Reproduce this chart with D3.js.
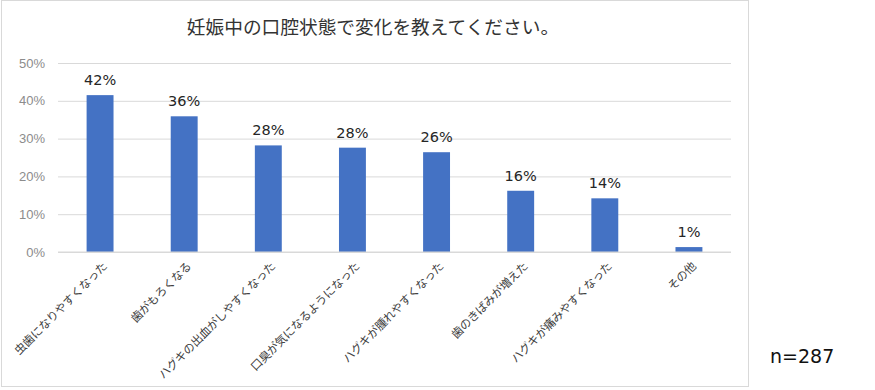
<!DOCTYPE html>
<html><head><meta charset="utf-8">
<script src="https://cdn.jsdelivr.net/npm/d3@7"></script>
<style>body{margin:0;background:#fff;}svg{display:block;font-family:"Noto Sans CJK JP","Noto Sans",sans-serif;}</style>
</head><body><svg id="c" width="875" height="390"></svg>
<script>
const categories = ["虫歯になりやすくなった","歯がもろくなる","ハグキの出血がしやすくなった","口臭が気になるようになった","ハグキが腫れやすくなった","歯のきばみが増えた","ハグキが痛みやすくなった","その他"];
const values = [41.5, 35.9, 28.2, 27.6, 26.4, 16.2, 14.2, 1.3];
const yTicks = [0, 10, 20, 30, 40, 50];
const title = "妊娠中の口腔状態で変化を教えてください。";
const note = "n=287";

const svg = d3.select("#c");
svg.append("rect").attr("x",1.5).attr("y",0.5).attr("width",747).attr("height",386)
  .attr("fill","#fff").attr("stroke","#d9d9d9");

const x = d3.scaleBand().domain(categories).range([58,731]).paddingInner(0.68).paddingOuter(0.34);
const y = d3.scaleLinear().domain([0,50]).range([252,63]);

svg.append("text").attr("x",373).attr("y",34).attr("text-anchor","middle")
  .attr("font-size",18.7).attr("fill","#333").text(title);

const ya = svg.append("g").attr("transform","translate(58,0)")
  .call(d3.axisLeft(y).tickValues(yTicks).tickSize(-673).tickFormat(d=>d+"%"));
ya.select(".domain").remove();
ya.selectAll("line").attr("stroke","#d9d9d9");
ya.selectAll("text").attr("x",-13).attr("fill","#8c8c8c").attr("font-size",13)
  .attr("font-family","'Liberation Sans',Arial,sans-serif");

svg.selectAll("rect.bar").data(values).enter().append("rect").attr("class","bar")
  .attr("x",(d,i)=>x(categories[i])).attr("width",x.bandwidth())
  .attr("y",d=>y(d)).attr("height",d=>y(0)-y(d)).attr("fill","#4472c4");

svg.selectAll("text.lab").data(values).enter().append("text").attr("class","lab")
  .attr("x",(d,i)=>x(categories[i])+x.bandwidth()/2).attr("y",d=>y(d)-10)
  .attr("text-anchor","middle").attr("font-size",14.5).attr("fill","#262626")
  .attr("font-family","'DejaVu Sans',sans-serif")
  .text(d=>Math.round(d)+"%");

svg.append("line").attr("x1",58).attr("x2",731).attr("y1",y(0)).attr("y2",y(0)).attr("stroke","#d9d9d9");

svg.selectAll("text.cat").data(categories).enter().append("text").attr("class","cat")
  .attr("transform",c=>`translate(${x(c)+x.bandwidth()/2+5},${264}) rotate(-45)`)
  .attr("text-anchor","end").attr("font-size",11.6).attr("fill","#404040")
  .attr("letter-spacing",-0.2)
  .attr("dy","0.35em").text(c=>c);

svg.append("text").attr("x",770).attr("y",363).attr("font-size",19).attr("fill","#111")
  .attr("font-family","'DejaVu Sans',sans-serif").text(note);
</script></body></html>
